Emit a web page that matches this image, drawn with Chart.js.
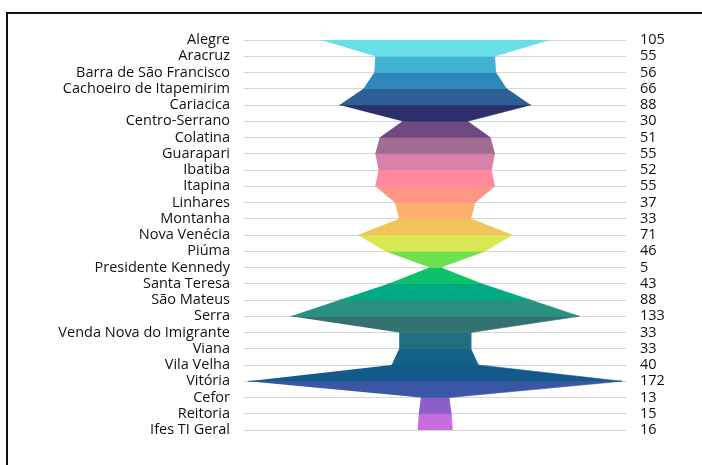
<!DOCTYPE html>
<html lang="pt-BR">
<head>
    <meta charset="UTF-8">
    <script src="https://cdn.jsdelivr.net/npm/chart.js@4.4.1/dist/chart.umd.min.js"></script>
    <title>Funil por campus</title>
    <style>
        html, body { margin: 0; padding: 0; background: #fff; overflow: hidden; }
        #frame { position: absolute; left: 6px; top: 12px; width: 720px; height: 480px;
                 border-left: 2px solid #111; border-top: 2px solid #111; }
        #wrap { position: absolute; left: 0; top: 0; width: 702px; height: 465px; }
    </style>
</head>
<body>
    <div id="frame"></div>
    <div id="wrap"><canvas id="chart" width="702" height="465"></canvas></div>
    <script>
        // campuses, top to bottom
        const campus = ['Alegre', 'Aracruz', 'Barra de São Francisco', 'Cachoeiro de Itapemirim',
            'Cariacica', 'Centro-Serrano', 'Colatina', 'Guarapari', 'Ibatiba', 'Itapina',
            'Linhares', 'Montanha', 'Nova Venécia', 'Piúma', 'Presidente Kennedy',
            'Santa Teresa', 'São Mateus', 'Serra', 'Venda Nova do Imigrante', 'Viana',
            'Vila Velha', 'Vitória', 'Cefor', 'Reitoria', 'Ifes TI Geral'];
        const totals = [105, 55, 56, 66, 88, 30, 51, 55, 52, 55, 37, 33, 71, 46, 5,
            43, 88, 133, 33, 33, 40, 172, 13, 15, 16];
        // one colour for each band between two neighbouring campuses
        const bandColors = ['#68dfe6', '#42b2d2', '#2b88b8', '#2c5f94', '#2d2e6c', '#6f4a82',
            '#a26c95', '#d880a8', '#ff8a9e', '#ff9584', '#fdb06e', '#f0c45a', '#d8e854',
            '#6ee24e', '#0dc06a', '#00aa82', '#2a9080', '#347272', '#236d82', '#14618a',
            '#135a8a', '#3a56a4', '#8a5fcc', '#c86ddd'];

        const font = { family: 'Open Sans', size: 14.5 };

        // each band is a closed trapezoid, mirrored around zero
        const datasets = bandColors.map((c, i) => ({
            data: [
                { x: -totals[i], y: i },
                { x: totals[i], y: i },
                { x: totals[i + 1], y: i + 1 },
                { x: -totals[i + 1], y: i + 1 }
            ],
            showLine: true,
            fill: 'shape',
            backgroundColor: c,
            borderColor: c,
            borderWidth: 0.6,
            pointRadius: 0,
            tension: 0
        }));

        new Chart(document.getElementById('chart'), {
            type: 'scatter',
            data: { datasets },
            options: {
                responsive: false,
                animation: false,
                layout: { padding: { top: 40, bottom: 35, left: 0, right: 0 } },
                plugins: { legend: { display: false }, tooltip: { enabled: false } },
                scales: {
                    x: { min: -176, max: 176, display: false },
                    y: {
                        position: 'left', reverse: true, min: 0, max: campus.length - 1,
                        afterFit: s => { s.width = 244; },
                        border: { display: false },
                        grid: { color: '#d6d6d6', lineWidth: 1, drawTicks: false },
                        ticks: { stepSize: 1, autoSkip: false, padding: 14, color: '#111', font,
                            callback: v => campus[v] }
                    },
                    y2: {
                        position: 'right', reverse: true, min: 0, max: campus.length - 1,
                        afterFit: s => { s.width = 76; },
                        border: { display: false },
                        grid: { display: false, drawTicks: false },
                        ticks: { stepSize: 1, autoSkip: false, padding: 14, color: '#111', font,
                            callback: v => totals[v] }
                    }
                }
            }
        });
    </script>
</body>
</html>
